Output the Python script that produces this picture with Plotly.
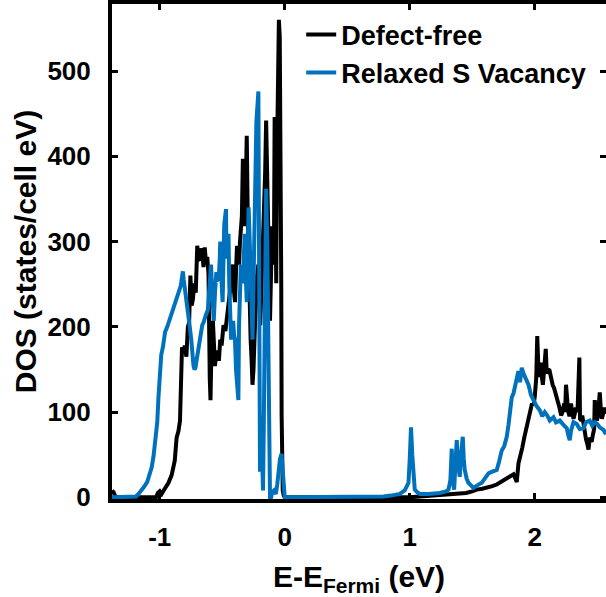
import plotly.graph_objects as go

# ---- data (energy in eV relative to Fermi level, DOS in states/cell eV) ----
e_defect_free = [-1.382, -1.37, -1.355, -1.34, -1.03, -1.015, -1.0, -0.985, -0.96, -0.93, -0.905, -0.88,
                 -0.865, -0.85, -0.838, -0.83, -0.822, -0.81, -0.80, -0.787, -0.775, -0.765, -0.755, -0.745,
                 -0.735, -0.724, -0.712, -0.70, -0.69, -0.677, -0.668, -0.66, -0.65, -0.64, -0.63, -0.62,
                 -0.61, -0.60, -0.594, -0.585, -0.575, -0.565, -0.559, -0.548, -0.537, -0.527, -0.516, -0.505,
                 -0.49, -0.475, -0.46, -0.445, -0.43, -0.42, -0.413, -0.405, -0.398, -0.39, -0.382, -0.374,
                 -0.366, -0.358, -0.351, -0.343, -0.335, -0.328, -0.32, -0.312, -0.304, -0.297, -0.289, -0.28,
                 -0.273, -0.265, -0.258, -0.25, -0.242, -0.234, -0.227, -0.218, -0.211, -0.203, -0.196, -0.188,
                 -0.18, -0.172, -0.165, -0.157, -0.149, -0.142, -0.134, -0.126, -0.118, -0.11, -0.102, -0.095,
                 -0.087, -0.081, -0.075, -0.068, -0.062, -0.056, -0.047, -0.04, -0.034, -0.028, -0.025, -0.02,
                 -0.016, -0.008, 0.0, 1.0, 1.1, 1.2, 1.3, 1.4, 1.45, 1.5, 1.536, 1.58, 1.616, 1.66, 1.696,
                 1.74, 1.776, 1.81, 1.83, 1.845, 1.856, 1.87, 1.885, 1.9, 1.916, 1.93, 1.947, 1.962, 1.978,
                 1.99, 2.0, 2.012, 2.02, 2.027, 2.034, 2.042, 2.05, 2.058, 2.065, 2.075, 2.088, 2.096, 2.105,
                 2.118, 2.13, 2.143, 2.155, 2.165, 2.175, 2.186, 2.198, 2.211, 2.222, 2.236, 2.243, 2.25,
                 2.258, 2.267, 2.278, 2.29, 2.3, 2.31, 2.32, 2.33, 2.342, 2.35, 2.357, 2.362, 2.372, 2.38,
                 2.39, 2.40, 2.41, 2.42, 2.43, 2.44, 2.455, 2.466, 2.475, 2.48, 2.488, 2.497, 2.506, 2.515,
                 2.52, 2.53, 2.537, 2.55, 2.56, 2.57]
dos_defect_free = [8, 6, 1, 0, 0, 5, 7, 4, 10, 17, 26, 43,
                   70, 78, 90, 140, 176, 170, 178, 165, 200, 205, 260, 225,
                   232, 251, 240, 295, 280, 278, 292, 288, 270, 293, 275, 282,
                   262, 140, 114, 185, 207, 175, 154, 168, 172, 160, 185, 178,
                   202, 195, 216, 228, 247, 270, 273, 240, 229, 265, 295, 280,
                   273, 300, 314, 330, 397, 360, 318, 360, 424, 340, 273, 220,
                   185, 160, 132, 150, 194, 230, 251, 265, 273, 240, 202, 240,
                   273, 300, 326, 380, 442, 400, 340, 260, 207, 260, 318, 290,
                   273, 446, 380, 251, 400, 525, 560, 540, 450, 250, 96, 30,
                   8, 2, 0, 0, 1, 2, 3, 4, 5, 7, 9, 10, 11, 13, 15,
                   19, 22, 26, 27, 22, 18, 40, 52, 58, 70, 80, 92, 98, 110,
                   108, 118, 140, 189, 160, 141, 150, 158, 140, 132, 150, 174, 145, 150,
                   149, 140, 132, 128, 123, 118, 114, 105, 96, 100, 110, 100, 132,
                   105, 101, 95, 110, 100, 92, 98, 105, 100, 150, 164, 92, 90, 96,
                   85, 74, 68, 63, 56, 70, 65, 74, 80, 114, 105, 90, 96, 110,
                   123, 100, 92, 100, 105, 99]

e_s_vacancy = [-1.382, -1.21, -1.19, -1.17, -1.15, -1.127, -1.10, -1.08, -1.065, -1.05, -1.034, -1.02,
               -1.01, -0.998, -0.988, -0.975, -0.965, -0.957, -0.94, -0.925, -0.91, -0.894, -0.878, -0.863,
               -0.848, -0.832, -0.822, -0.815, -0.808, -0.80, -0.786, -0.77, -0.76, -0.748, -0.738, -0.73,
               -0.722, -0.714, -0.706, -0.699, -0.69, -0.683, -0.672, -0.66, -0.65, -0.64, -0.628, -0.615,
               -0.605, -0.598, -0.59, -0.58, -0.568, -0.558, -0.547, -0.538, -0.528, -0.52, -0.516, -0.508,
               -0.497, -0.49, -0.484, -0.47, -0.466, -0.458, -0.45, -0.444, -0.438, -0.429, -0.42, -0.413,
               -0.405, -0.398, -0.39, -0.382, -0.371, -0.366, -0.36, -0.351, -0.343, -0.335, -0.328, -0.32,
               -0.312, -0.304, -0.296, -0.289, -0.28, -0.273, -0.266, -0.258, -0.25, -0.242, -0.235, -0.227,
               -0.211, -0.207, -0.203, -0.198, -0.193, -0.189, -0.182, -0.174, -0.168, -0.161, -0.155, -0.149,
               -0.14, -0.136, -0.13, -0.124, -0.118, -0.109, -0.1, -0.087, -0.078, -0.071, -0.06, -0.05,
               -0.038, -0.026, -0.016, -0.008, 0.0, 0.016, 0.6, 0.79, 0.85, 0.92, 0.96, 0.99, 1.0, 1.01,
               1.02, 1.03, 1.04, 1.06, 1.08, 1.15, 1.24, 1.29, 1.31, 1.325, 1.336, 1.345, 1.355, 1.366,
               1.376, 1.385, 1.40, 1.41, 1.424, 1.432, 1.44, 1.455, 1.469, 1.49, 1.509, 1.54, 1.576, 1.6,
               1.63, 1.66, 1.696, 1.715, 1.736, 1.756, 1.776, 1.79, 1.8, 1.816, 1.83, 1.842, 1.855, 1.869,
               1.882, 1.896, 1.91, 1.922, 1.935, 1.95, 1.97, 1.99, 2.01, 2.04, 2.06, 2.08, 2.10, 2.12,
               2.15, 2.17, 2.2, 2.23, 2.256, 2.27, 2.28, 2.29, 2.31, 2.336, 2.36, 2.39, 2.41, 2.44, 2.46,
               2.48, 2.5, 2.52, 2.55, 2.57]
dos_s_vacancy = [0, 0, 1, 4, 7, 12, 18, 26, 35, 48, 65, 88,
                 118, 141, 167, 176, 185, 194, 200, 207, 212, 218, 226, 235,
                 240, 248, 258, 265, 255, 247, 233, 216, 200, 185, 165, 154,
                 150, 152, 160, 167, 178, 185, 195, 202, 205, 211, 215, 220,
                 240, 260, 273, 240, 207, 240, 264, 255, 256, 280, 300, 260,
                 229, 280, 320, 338, 280, 300, 309, 250, 207, 185, 200, 207,
                 190, 185, 150, 130, 114, 200, 229, 273, 265, 251, 280, 309,
                 260, 229, 290, 340, 300, 273, 230, 185, 250, 318, 400, 440,
                 476, 350, 150, 30, 60, 96, 40, 8, 80, 185, 280, 362,
                 300, 229, 100, 10, 0, 0, 6, 8, 5, 4, 15, 30,
                 45, 51, 26, 6, 0, 0, 0, 1, 2, 4, 8, 17, 45, 82,
                 50, 20, 9, 6, 4, 4, 5, 7, 9, 20, 57, 20, 9, 40,
                 67, 40, 24, 50, 71, 45, 32, 22, 17, 14, 11, 14, 17, 22,
                 28, 30, 32, 42, 55, 60, 71, 85, 100, 117, 122, 129, 140, 148,
                 135, 152, 145, 141, 138, 132, 120, 114, 108, 102, 95, 100, 96, 90,
                 94, 88, 90, 85, 81, 72, 67, 78, 88, 86, 80, 81, 88, 90, 84,
                 88, 86, 82, 79, 74]

x_ticks = [-1, 0, 1, 2]
x_tick_labels = ["-1", "0", "1", "2"]
y_ticks = [0, 100, 200, 300, 400, 500]
y_tick_labels = ["0", "100", "200", "300", "400", "500"]
x_range = [-1.382, 2.57]
y_range = [-2, 578.6]

FONT = "Liberation Sans, Arial, Helvetica, sans-serif"
BLUE = "#0072BD"

fig = go.Figure()
fig.add_trace(go.Scatter(x=e_defect_free, y=dos_defect_free, mode="lines", name="Defect-free",
                         line=dict(color="black", width=4)))
fig.add_trace(go.Scatter(x=e_s_vacancy, y=dos_s_vacancy, mode="lines", name="Relaxed S Vacancy",
                         line=dict(color=BLUE, width=4)))
# invisible helper trace so the right-side tick axis is drawn
fig.add_trace(go.Scatter(x=[None], y=[None], yaxis="y2", showlegend=False, hoverinfo="skip"))

tickfont = dict(family=FONT, size=26, color="black", weight="bold")
titlefont = dict(family=FONT, size=30, color="black", weight="bold")

fig.update_layout(
    width=606, height=597,
    margin=dict(l=112, r=0, t=4, b=98),
    plot_bgcolor="white", paper_bgcolor="white",
    showlegend=True,
    legend=dict(x=0.383, y=0.987, xanchor="left", yanchor="top",
                font=dict(family=FONT, size=27, color="black", weight="bold"),
                bgcolor="rgba(0,0,0,0)", borderwidth=0, tracegroupgap=0),
    xaxis=dict(range=x_range, tickvals=x_ticks, ticktext=x_tick_labels, ticks="inside", ticklen=6,
               tickwidth=3, tickcolor="black", showline=True, linewidth=4, linecolor="black",
               mirror="ticks", showgrid=False, zeroline=False, tickfont=tickfont, ticklabelstandoff=12,
               title=dict(text="E-E<sub>Fermi</sub> (eV)", font=titlefont, standoff=24),
               layer="below traces"),
    yaxis=dict(range=y_range, tickvals=y_ticks, ticktext=y_tick_labels, ticks="inside", ticklen=6,
               tickwidth=3, tickcolor="black", showline=True, linewidth=4, linecolor="black",
               showgrid=False, zeroline=False, tickfont=tickfont, ticklabelstandoff=12,
               title=dict(text="DOS (states/cell eV)", font=titlefont, standoff=3),
               layer="below traces"),
    yaxis2=dict(range=y_range, tickvals=y_ticks, overlaying="y", side="right", anchor="x",
                ticks="inside", ticklen=6, tickwidth=3, tickcolor="black", showline=False,
                showgrid=False, zeroline=False, showticklabels=False),
)

fig.write_html("out.html")
